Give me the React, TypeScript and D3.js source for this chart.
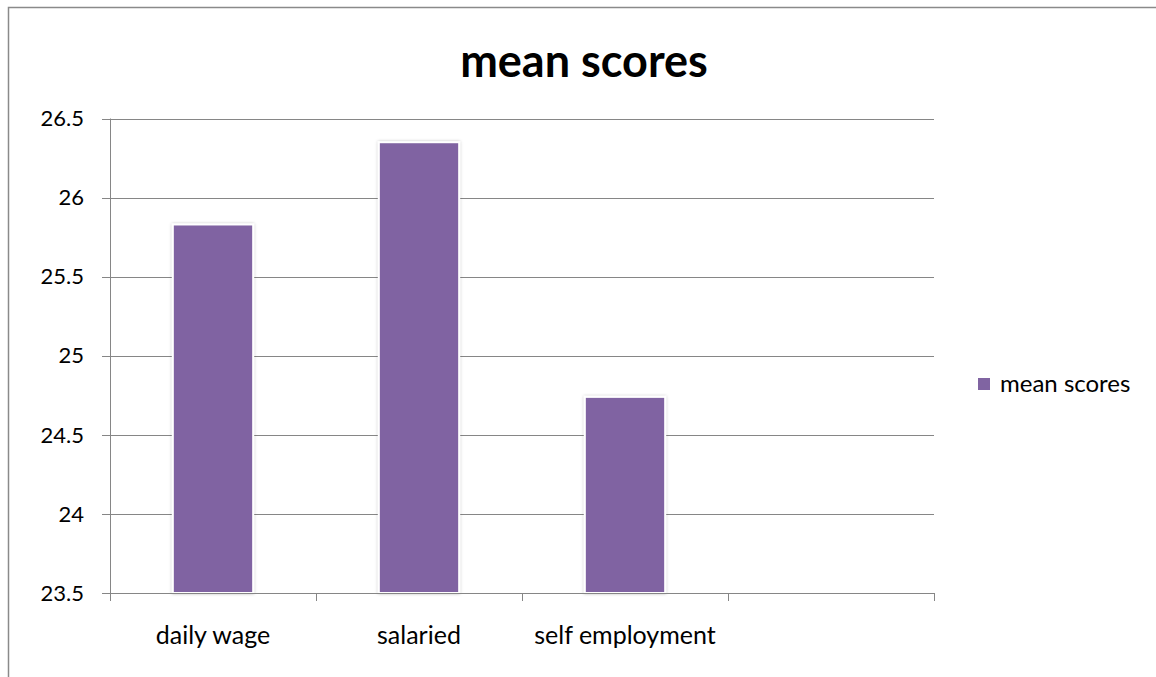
import React from "react";
import * as d3 from "d3";

const categories = ["daily wage", "salaried", "self employment", ""];
const values = [25.83, 26.35, 24.74];
const yTicks = [23.5, 24, 24.5, 25, 25.5, 26, 26.5];
const seriesName = "mean scores";
const title = "mean scores";

export default function App() {
  const W = 1156, H = 677;
  const left = 110, right = 934, top = 118.5, bottom = 593;
  const x = d3.scaleBand<string>().domain(categories).range([left, right]).paddingInner(0.61).paddingOuter(0.305);
  const y = d3.scaleLinear().domain([23.5, 26.5]).range([bottom, top]);
  const step = x.step();
  const font = "Lato, 'Open Sans', sans-serif";
  const grid = "#868686";
  const color = "#8064A2";
  return (
    <svg width={W} height={H} style={{ position: "absolute", left: 0, top: 0 }} fontFamily={font}>
      <defs>
        <filter id="sh" x="-20%" y="-5%" width="140%" height="110%">
          <feDropShadow dx="0" dy="0" stdDeviation="1.5" floodColor="#000" floodOpacity="0.25" />
        </filter>
      </defs>
      <rect x={0} y={0} width={W} height={H} fill="#fff" />
      <path d={`M8.5,${H} V7.5 H${W}`} fill="none" stroke="#8a8a8a" strokeWidth={1.5} />
      <text x={584} y={77} textAnchor="middle" fontWeight="bold" fontSize={45} fill="#000">{title}</text>
      {yTicks.map((t) => (
        <g key={t}>
          <line x1={102} x2={right} y1={Math.round(y(t)) + 0.5} y2={Math.round(y(t)) + 0.5} stroke={grid} strokeWidth={1} />
          <text x={84} y={y(t)} dy="0.35em" textAnchor="end" fontSize={22} fill="#000">{t}</text>
        </g>
      ))}
      <line x1={left + 0.5} x2={left + 0.5} y1={top} y2={bottom} stroke={grid} />
      {d3.range(categories.length + 1).map((i) => {
        const xx = Math.round(left + i * step) + 0.5;
        return <line key={i} x1={xx} x2={xx} y1={bottom} y2={bottom + 8} stroke={grid} />;
      })}
      {values.map((v, i) => (
        <rect key={i} x={x(categories[i])!} y={y(v)} width={x.bandwidth()} height={bottom - y(v)}
          fill={color} stroke="#fff" strokeWidth={2} filter="url(#sh)" />
      ))}
      <line x1={102} x2={right} y1={bottom + 0.5} y2={bottom + 0.5} stroke={grid} />
      {categories.map((c) => (
        <text key={c} x={x(c)! + x.bandwidth() / 2} y={644} textAnchor="middle" fontSize={25} fill="#000">{c}</text>
      ))}
      <rect x={978} y={378} width={12} height={12} fill={color} />
      <text x={1000} y={384} dy="0.35em" fontSize={24} fill="#000">{seriesName}</text>
    </svg>
  );
}
